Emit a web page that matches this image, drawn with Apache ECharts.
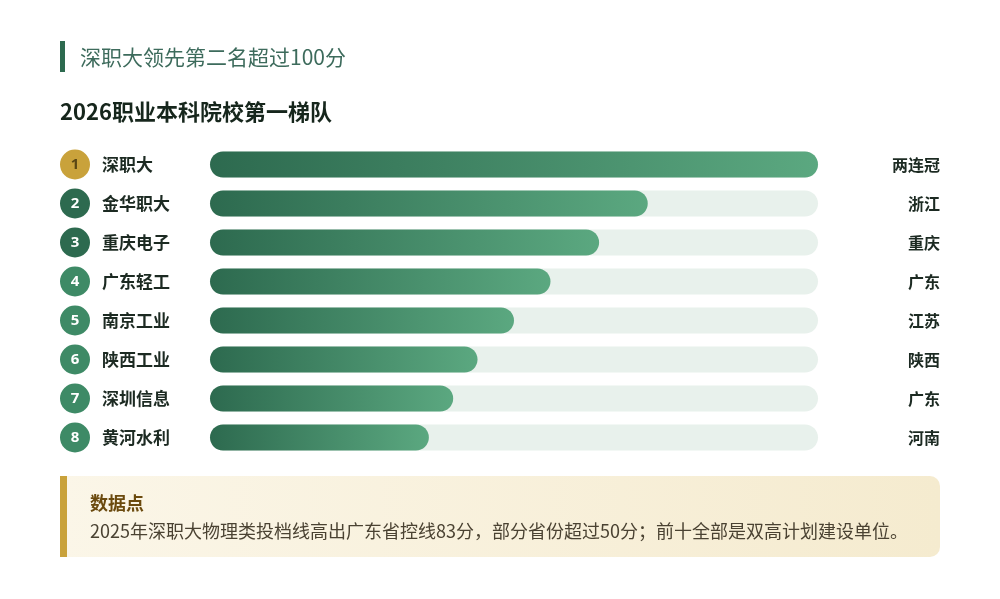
<!DOCTYPE html>
<html>
<head>
<meta charset="utf-8">
<script src="https://cdn.jsdelivr.net/npm/echarts@6/dist/echarts.min.js"></script>
<style>
  html, body { margin: 0; padding: 0; background: #fff; }
  #chart { width: 1000px; height: 599px; }
</style>
</head>
<body>
<div id="chart"></div>
<script>
const schools = ['深职大', '金华职大', '重庆电子', '广东轻工', '南京工业', '陕西工业', '深圳信息', '黄河水利']
const regions = ['两连冠', '浙江', '重庆', '广东', '江苏', '陕西', '广东', '河南']
const scores = [100, 72, 64, 56, 50, 44, 40, 36]

const FONT = '"Noto Sans CJK SC", "Noto Sans", sans-serif'

function rankStyle(i) {
    if (i === 0) return 'g'
    if (i < 3) return 'd'
    return 'm'
}

function circle(bg, color) {
    return {
        width: 30, height: 30, lineHeight: 30, borderRadius: 15,
        backgroundColor: bg, color: color, align: 'center',
        fontSize: 15, fontWeight: 700, fontFamily: '"Noto Sans", sans-serif'
    }
}

const chart = echarts.init(document.getElementById('chart'))
chart.setOption({
    backgroundColor: '#ffffff',
    animation: false,
    grid: { left: 210, right: 182, top: 145, height: 312 },
    xAxis: { type: 'value', min: 0, max: 100, show: false },
    yAxis: [{
        type: 'category',
        data: schools,
        inverse: true,
        axisLine: { show: false },
        axisTick: { show: false },
        axisLabel: {
            margin: 150,
            align: 'left',
            fontWeight: 'bold',
            formatter: function (value, i) {
                return '{' + rankStyle(i) + '|' + (i + 1) + '}{s|}{n|' + value + '}'
            },
            rich: {
                g: circle('#c9a23b', '#5a4714'),
                d: circle('#2d6a4f', '#ffffff'),
                m: circle('#3e8a66', '#ffffff'),
                s: { width: 12 },
                n: { fontSize: 17, fontWeight: 'bold', color: '#1c2a22', fontFamily: FONT }
            }
        }
    }, {
        type: 'category',
        data: regions,
        inverse: true,
        position: 'right',
        axisLine: { show: false },
        axisTick: { show: false },
        axisLabel: {
            margin: 122,
            align: 'right',
            fontSize: 16,
            fontWeight: 'bold',
            color: '#1c2a22',
            fontFamily: FONT
        }
    }],
    series: [{
        type: 'bar',
        data: scores,
        barWidth: 26,
        showBackground: true,
        backgroundStyle: { color: '#e8f1ec', borderRadius: 13 },
        itemStyle: {
            borderRadius: 13,
            color: new echarts.graphic.LinearGradient(0, 0, 1, 0, [
                { offset: 0, color: '#2d6a4f' },
                { offset: 1, color: '#5ba880' }
            ])
        }
    }],
    graphic: [
        { type: 'rect', shape: { x: 60, y: 41, width: 5, height: 31 }, style: { fill: '#2d6a4f' } },
        { type: 'text', x: 80, y: 57, style: {
            text: '深职大领先第二名超过100分', fill: '#3d6b5c', fontSize: 21,
            fontFamily: FONT, verticalAlign: 'middle' } },
        { type: 'text', x: 60, y: 112, style: {
            text: '2026职业本科院校第一梯队', fill: '#16261c', fontSize: 22, fontWeight: 'bold',
            fontFamily: FONT, verticalAlign: 'middle' } },
        { type: 'rect', shape: { x: 60, y: 476, width: 880, height: 81, r: [0, 10, 10, 0] },
            style: { fill: new echarts.graphic.LinearGradient(0, 0, 1, 0, [
                { offset: 0, color: '#fbf6e8' },
                { offset: 1, color: '#f5ebcf' }
            ]) } },
        { type: 'rect', shape: { x: 60, y: 476, width: 7, height: 81 }, style: { fill: '#c9a23b' } },
        { type: 'text', x: 90, y: 503, style: {
            text: '数据点', fill: '#6b4a0e', fontSize: 18, fontWeight: 'bold',
            fontFamily: FONT, verticalAlign: 'middle' } },
        { type: 'text', x: 90, y: 531, style: {
            text: '2025年深职大物理类投档线高出广东省控线83分，部分省份超过50分；前十全部是双高计划建设单位。',
            fill: '#4a4232', fontSize: 18, fontFamily: FONT, verticalAlign: 'middle' } }
    ]
})
</script>
</body>
</html>
